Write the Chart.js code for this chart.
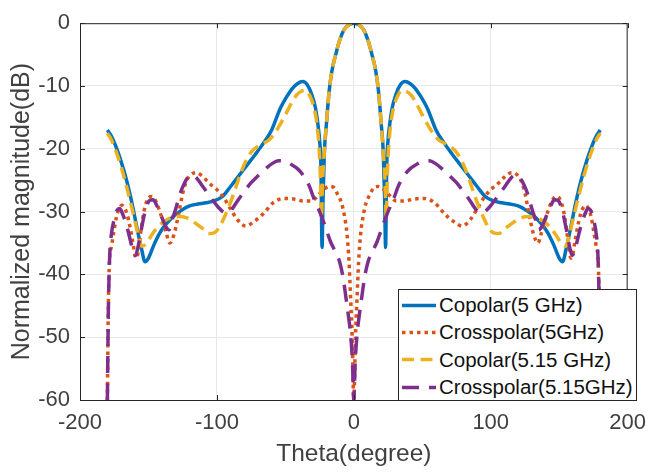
<!DOCTYPE html>
<html>
<head>
<meta charset="utf-8">
<script src="https://cdn.jsdelivr.net/npm/chart.js@4.4.0/dist/chart.umd.min.js"></script>
<style>
  body { margin: 0; background: #fff; }
  #wrap { position: relative; width: 656px; height: 474px; }
  #legend {
    position: absolute; left: 398px; top: 289px; width: 237px; height: 110px;
    border: 1px solid #262626; background: #fff;
    font-family: "Liberation Sans", Arial, sans-serif; font-size: 20.5px; color: #111;
  }
  .row { position: absolute; left: 0; height: 27px; display: flex; align-items: center; white-space: nowrap; }
  .row svg { display: block; }
  .row span { margin-left: 2px; }
</style>
</head>
<body>
<div id="wrap">
  <canvas id="c" width="656" height="474"></canvas>
  <div id="legend"></div>
</div>
<script>
// theta in degrees, magnitude in dB
const co5Theta = [-180,-177,-174,-170,-166,-162,-158,-155,-152.5,-150,-146,-142,-138,-132,-126,-120,-114,-108,-102,-96,-90,-84,-78,-72,-66,-60,-54,-49,-45,-41,-37.5,-34,-31,-28,-26,-25,-24,-23.2,-22.5,-21.5,-20,-18,-16,-13,-10,-7,-4,
  0,
  4,7,10,13,16,18,20,21.5,22.5,23.2,24,25,26,28,31,34,37.5,41,45,49,54,60,66,72,78,84,90,96,102,108,114,120,126,132,138,142,146,150,152.5,155,158,162,166,170,174,177,180];
const co5Db = [-17,-18,-19.5,-22,-25,-28.7,-33,-36,-38,-37.4,-35.3,-33.5,-32.2,-30.8,-29.8,-29.1,-28.8,-28.6,-28.3,-27.6,-26,-24.3,-22.6,-20.9,-19.1,-17,-13.7,-11.7,-10.4,-9.6,-9.3,-9.8,-11.2,-13.5,-16.5,-18.6,-23,-35.7,-28,-20.5,-16,-10.8,-7.6,-4.8,-2.5,-1,-0.3,
  0,
  -0.3,-1,-2.5,-4.8,-7.6,-10.8,-16,-20.5,-28,-35.7,-23,-18.6,-16.5,-13.5,-11.2,-9.8,-9.3,-9.6,-10.4,-11.7,-13.7,-17,-19.1,-20.9,-22.6,-24.3,-26,-27.6,-28.3,-28.6,-28.8,-29.1,-29.8,-30.8,-32.2,-33.5,-35.3,-37.4,-38,-36,-33,-28.7,-25,-22,-19.5,-18,-17];

const cx5Theta = [-180,-179.3,-178.5,-177,-175.5,-173.5,-171.5,-169.5,-167.5,-165.5,-163.5,-161.5,-159.5,-158.5,-157,-155,-153,-150.5,-147.5,-144.5,-142,-139.5,-137,-134.5,-131,-128,-125,-122,-119,-115,-110,-105,-100,-95,-90,-85,-79,-73,-66,-59,-51,-44,-37,-31,-26,-22.5,-18,-15,-12,-9,-7,-5,-3.5,-2.3,-1.2,
  0,
  1.2,2.3,3.5,5,7,9,12,15,18,22.5,26,31,37,44,51,59,66,73,79,85,90,95,100,105,110,115,119,122,125,128,131,134.5,137,139.5,142,144.5,147.5,150.5,153,155,157,158.5,159.5,161.5,163.5,165.5,167.5,169.5,171.5,173.5,175.5,177,178.5,179.3,180];
const cx5Db = [-60,-45,-38,-35.5,-33.5,-31,-29.6,-29,-29.4,-30.5,-32.4,-34.8,-37.2,-37.4,-35.5,-32.3,-29.7,-28,-27.6,-28.4,-29.8,-31.5,-33.4,-35,-33.4,-30.4,-27.1,-25,-24.1,-23.8,-24.5,-25.6,-26.5,-27.8,-29.6,-31.3,-32.3,-31.6,-30.3,-28.6,-27.9,-28,-28.3,-28.3,-27.4,-26.6,-26,-26.1,-27.2,-28.6,-30.5,-33.5,-38,-44,-50,
  -60,
  -50,-44,-38,-33.5,-30.5,-28.6,-27.2,-26.1,-26,-26.6,-27.4,-28.3,-28.3,-28,-27.9,-28.6,-30.3,-31.6,-32.3,-31.3,-29.6,-27.8,-26.5,-25.6,-24.5,-23.8,-24.1,-25,-27.1,-30.4,-33.4,-35,-33.4,-31.5,-29.8,-28.4,-27.6,-28,-29.7,-32.3,-35.5,-37.4,-37.2,-34.8,-32.4,-30.5,-29.4,-29,-29.6,-31,-33.5,-35.5,-38,-45,-60];

const co515Theta = [-180,-177,-174,-170,-166,-162,-158,-155,-152,-149,-145,-140,-134,-128,-122,-116,-110,-106,-102,-98,-94,-90,-86,-82,-78,-74,-70,-66,-62,-58,-54,-50,-46,-42,-38,-35,-32,-29,-27,-25.5,-24.5,-23.7,-22.8,-21.5,-20,-18,-16,-13,-10,-7,-4,
  0,
  4,7,10,13,16,18,20,21.5,22.8,23.7,24.5,25.5,27,29,32,35,38,42,46,50,54,58,62,66,70,74,78,82,86,90,94,98,102,106,110,116,122,128,134,140,145,149,152,155,158,162,166,170,174,177,180];
const co515Db = [-17.5,-18.6,-20.2,-22.8,-26,-29.5,-33.2,-35.5,-35.2,-34.2,-32.9,-31.8,-31,-30.8,-31,-31.8,-32.8,-33.5,-33.4,-32.4,-30.6,-28.5,-26,-23.5,-21.6,-20.3,-19.6,-19.1,-18.6,-17.6,-16.2,-14.6,-12.9,-11.5,-10.8,-10.7,-11.6,-13.5,-16,-19.5,-24,-31,-25,-20.5,-16,-10.8,-7.6,-4.8,-2.5,-1,-0.3,
  0,
  -0.3,-1,-2.5,-4.8,-7.6,-10.8,-16,-20.5,-25,-31,-24,-19.5,-16,-13.5,-11.6,-10.7,-10.8,-11.5,-12.9,-14.6,-16.2,-17.6,-18.6,-19.1,-19.6,-20.3,-21.6,-23.5,-26,-28.5,-30.6,-32.4,-33.4,-33.5,-32.8,-31.8,-31,-30.8,-31,-31.8,-32.9,-34.2,-35.2,-35.5,-33.2,-29.5,-26,-22.8,-20.2,-18.6,-17.5];

const cx515Theta = [-180,-179.3,-178.3,-177,-175,-173,-171,-169,-167,-165,-162,-159.5,-157.5,-155,-152,-149,-146.5,-144,-141,-137.5,-135,-133,-130,-127,-124,-121,-118,-115,-111,-107,-103,-99,-95,-92,-89,-85,-80,-75,-70,-65,-60,-55,-50,-45,-41,-37,-33,-29,-25,-21,-17,-13,-10.5,-8,-6,-4,-2.4,-1,
  0,
  1,2.4,4,6,8,10.5,13,17,21,25,29,33,37,41,45,50,55,60,65,70,75,80,85,89,92,95,99,103,107,111,115,118,121,124,127,130,133,135,137.5,141,144,146.5,149,152,155,157.5,159.5,162,165,167,169,171,173,175,177,178.3,179.3,180];
const cx515Db = [-60,-46,-37,-33.5,-31.2,-29.8,-29.5,-30.3,-31.5,-33,-35.6,-37,-35.5,-32.6,-29.6,-28.2,-28.1,-29,-30.5,-32.3,-32.9,-31.5,-29.5,-27.2,-25.6,-24.5,-24.2,-24.6,-25.8,-27,-28.2,-29.3,-30.1,-30.2,-29.6,-28.3,-26.8,-25.4,-24.3,-23.3,-22.4,-21.9,-22,-22.6,-23.2,-24.2,-25.7,-28,-30,-32.3,-34.8,-36.6,-37.9,-40.3,-43.3,-46.5,-49.5,-54,
  -60,
  -54,-49.5,-46.5,-43.3,-40.3,-37.9,-36.6,-34.8,-32.3,-30,-28,-25.7,-24.2,-23.2,-22.6,-22,-21.9,-22.4,-23.3,-24.3,-25.4,-26.8,-28.3,-29.6,-30.2,-30.1,-29.3,-28.2,-27,-25.8,-24.6,-24.2,-24.5,-25.6,-27.2,-29.5,-31.5,-32.9,-32.3,-30.5,-29,-28.1,-28.2,-29.6,-32.6,-35.5,-37,-35.6,-33,-31.5,-30.3,-29.5,-29.8,-31.2,-33.5,-37,-46,-60];

const seriesNames = ['Copolar(5 GHz)', 'Crosspolar(5GHz)', 'Copolar(5.15 GHz)', 'Crosspolar(5.15GHz)'];
const xTicks = [-200, -100, 0, 100, 200];
const yTicks = [-60, -50, -40, -30, -20, -10, 0];

const FONT = '"Liberation Sans", Arial, sans-serif';
const toPoints = (th, db) => th.map((t, i) => ({ x: t, y: db[i] }));

const series = [
  { label: seriesNames[0], data: toPoints(co5Theta, co5Db), borderColor: '#0072BD', borderDash: [], order: 4 },
  { label: seriesNames[1], data: toPoints(cx5Theta, cx5Db), borderColor: '#D95319', borderDash: [3.5, 4], order: 3 },
  { label: seriesNames[2], data: toPoints(co515Theta, co515Db), borderColor: '#EDB120', borderDash: [12, 6.5], order: 2 },
  { label: seriesNames[3], data: toPoints(cx515Theta, cx515Db), borderColor: '#7E2F8E', borderDash: [17, 10], order: 1 }
];
series.forEach(s => {
  s.borderWidth = 3.5;
  s.pointRadius = 0;
  s.fill = false;
  s.cubicInterpolationMode = 'monotone';
  s.borderCapStyle = 'butt';
});

// matlab style box with inward ticks
const boxPlugin = {
  id: 'box',
  afterDraw(chart) {
    const { ctx, chartArea: a, scales } = chart;
    ctx.save();
    ctx.strokeStyle = '#262626';
    ctx.lineWidth = 1;
    ctx.strokeRect(a.left + 0.5, a.top + 0.5, a.right - a.left - 1, a.bottom - a.top);
    ctx.beginPath();
    xTicks.forEach(v => {
      const px = Math.round(scales.x.getPixelForValue(v)) + 0.5;
      ctx.moveTo(px, a.bottom); ctx.lineTo(px, a.bottom - 5);
      ctx.moveTo(px, a.top); ctx.lineTo(px, a.top + 5);
    });
    yTicks.forEach(v => {
      const py = Math.round(scales.y.getPixelForValue(v)) + 0.5;
      ctx.moveTo(a.left, py); ctx.lineTo(a.left + 5, py);
      ctx.moveTo(a.right, py); ctx.lineTo(a.right - 5, py);
    });
    ctx.stroke();
    ctx.restore();
  }
};

new Chart(document.getElementById('c').getContext('2d'), {
  type: 'line',
  data: { datasets: series },
  options: {
    responsive: false,
    animation: false,
    devicePixelRatio: 1,
    layout: { padding: { top: 16, right: 19, left: 0, bottom: 0 } },
    plugins: { legend: { display: false }, tooltip: { enabled: false } },
    scales: {
      x: {
        type: 'linear', min: -200, max: 200,
        afterBuildTicks: s => { s.ticks = xTicks.map(v => ({ value: v })); },
        afterFit: s => { s.height = 74; },
        ticks: { color: '#404040', font: { family: FONT, size: 22 }, padding: 10, maxRotation: 0 },
        grid: { color: '#e8e8e8', drawTicks: false },
        border: { color: '#262626' },
        title: { display: true, text: 'Theta(degree)', color: '#404040', font: { family: FONT, size: 24.5 }, padding: { top: 0, bottom: 5 } }
      },
      y: {
        type: 'linear', min: -60, max: 0,
        afterBuildTicks: s => { s.ticks = yTicks.map(v => ({ value: v })); },
        afterFit: s => { s.width = 80; },
        ticks: { color: '#404040', font: { family: FONT, size: 22 }, padding: 10 },
        grid: { color: '#e8e8e8', drawTicks: false },
        border: { color: '#262626' },
        title: { display: true, text: 'Normalized magnitude(dB)', color: '#404040', font: { family: FONT, size: 25 }, padding: { top: 7, bottom: 0 } }
      }
    }
  },
  plugins: [boxPlugin]
});

// legend inside the axes, bottom right
const legend = document.getElementById('legend');
series.forEach((s, i) => {
  const row = document.createElement('div');
  row.className = 'row';
  row.style.top = (1.5 + i * 27.4) + 'px';
  row.innerHTML =
    '<svg width="38" height="27"><line x1="3" y1="13.5" x2="37" y2="13.5" stroke="' + s.borderColor +
    '" stroke-width="3.5" stroke-dasharray="' + (s.borderDash.length ? s.borderDash.join(' ') : 'none') + '"/></svg>' +
    '<span>' + s.label + '</span>';
  legend.appendChild(row);
});
</script>
</body>
</html>
